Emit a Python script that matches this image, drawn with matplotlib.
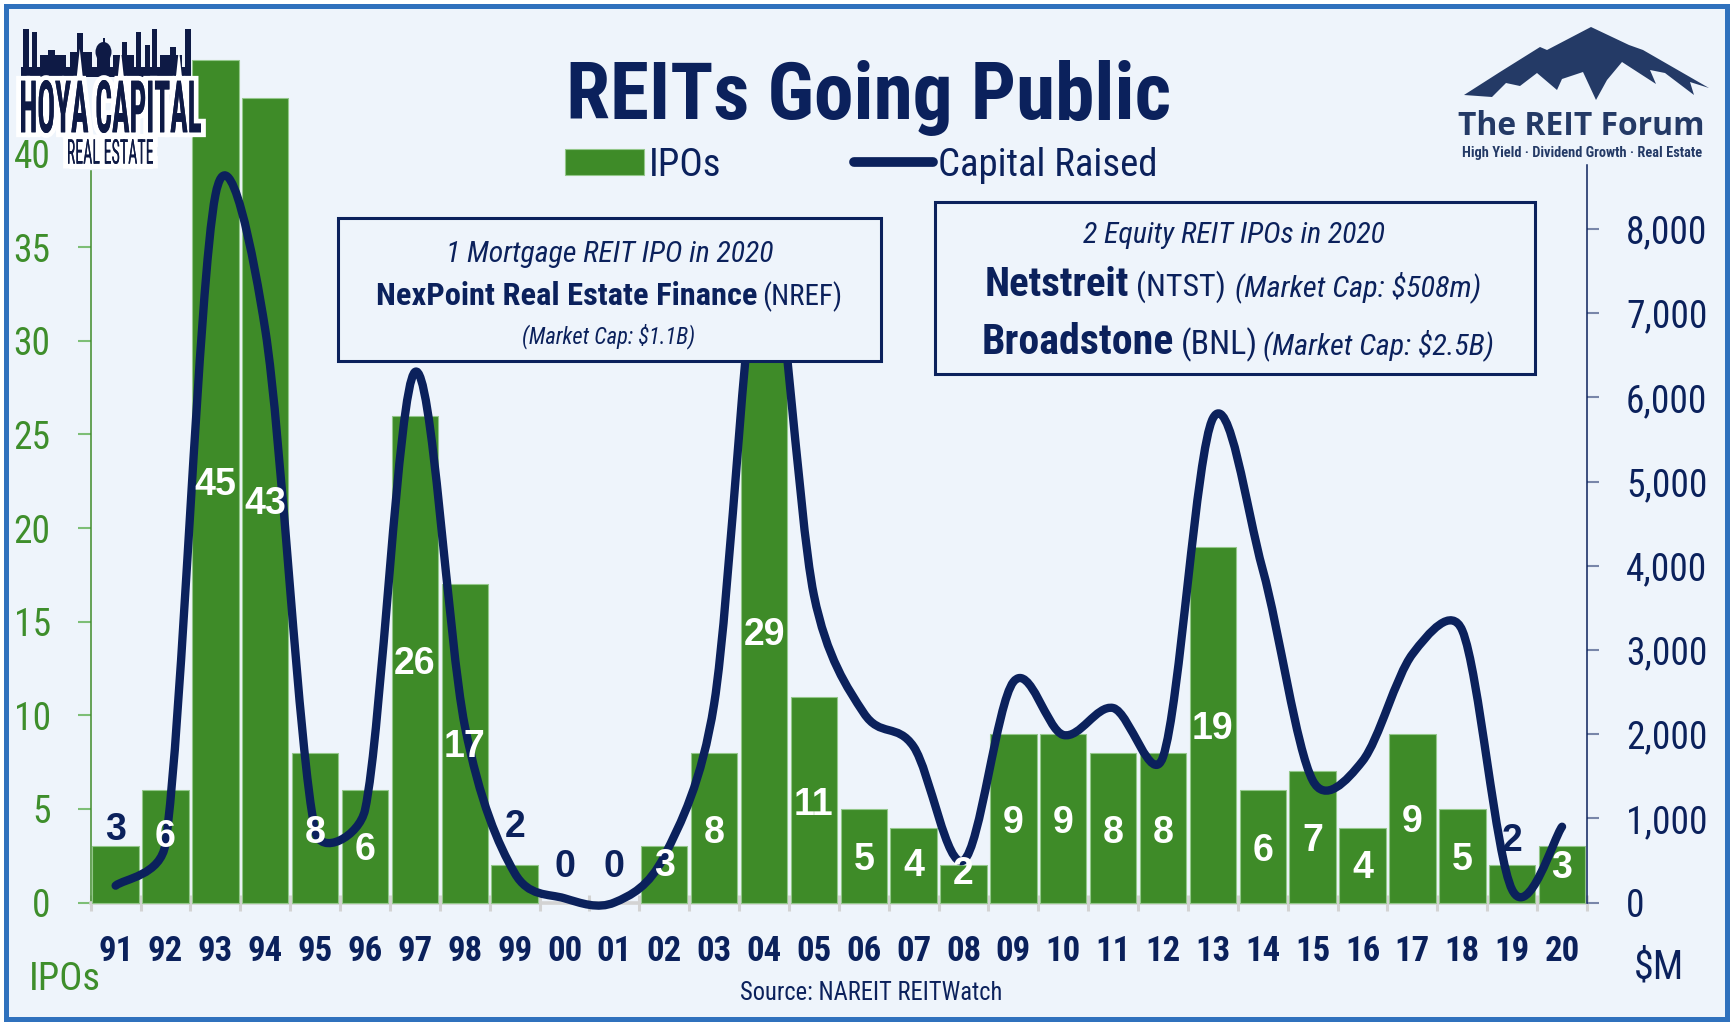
import numpy as np
import matplotlib
matplotlib.use('Agg')
import matplotlib.pyplot as plt
from matplotlib import font_manager
from matplotlib.path import Path
from matplotlib.patches import PathPatch, Rectangle, Polygon, Ellipse
from matplotlib.transforms import Affine2D
from matplotlib.textpath import TextPath
from matplotlib.font_manager import FontProperties
from matplotlib.lines import Line2D
import matplotlib.patheffects as pe

# ---------------- data ----------------
years = ['91', '92', '93', '94', '95', '96', '97', '98', '99', '00',
         '01', '02', '03', '04', '05', '06', '07', '08', '09', '10',
         '11', '12', '13', '14', '15', '16', '17', '18', '19', '20']
ipos = [3, 6, 45, 43, 8, 6, 26, 17, 2, 0,
        0, 3, 8, 29, 11, 5, 4, 2, 9, 9,
        8, 8, 19, 6, 7, 4, 9, 5, 2, 3]
capital = [200, 700, 8400, 6800, 850, 1100, 6300, 2100, 350, 50,
           0, 550, 2360, 8000, 3650, 2250, 1850, 500, 2620, 1990,
           2310, 1730, 5750, 3950, 1450, 1680, 2950, 3230, 150, 900]
left_ticks = [0, 5, 10, 15, 20, 25, 30, 35, 40]
right_ticks = [0, 1000, 2000, 3000, 4000, 5000, 6000, 7000, 8000]

# layout of the value labels (vertical centre, in IPO-axis units)
label_y = [4.1, 3.7, 22.5, 21.5, 3.9, 3.0, 12.95, 8.5, 4.25, 2.13,
           2.13, 2.18, 3.93, 14.5, 5.42, 2.48, 2.18, 1.73, 4.47, 4.47,
           3.93, 3.93, 9.49, 2.99, 3.48, 2.06, 4.5, 2.48, 3.52, 2.06]
dark_label_years = {'91', '99', '00', '01', '19'}

# ---------------- style ----------------
GREEN = '#3E8B28'
GREEN_TXT = '#3E8E2B'
NAVY = '#0B215C'
LOGO_NAVY = '#0E1A45'
FORUM = '#243A66'
BG = '#EEF4FB'
BORDER = '#2F71BD'

avail = {f.name for f in font_manager.fontManager.ttflist}


def pick(*names):
    for n in names:
        if n in avail:
            return n
    return 'DejaVu Sans'


NARROW = pick('Liberation Sans Narrow', 'Roboto Condensed', 'DejaVu Sans')
STRETCH = 'condensed' if NARROW == 'DejaVu Sans' else 'normal'
BOLD = pick('Liberation Sans', 'Arimo', 'DejaVu Sans')
LOGO = pick('Open Sans', 'Roboto', 'Noto Sans', 'DejaVu Sans')

W, H, DPI = 1734, 1028, 100
fig = plt.figure(figsize=(W / DPI, H / DPI), dpi=DPI, facecolor='white')
# pixel coordinates with origin at top-left
PX = Affine2D().scale(1, -1).translate(0, H).scale(1 / DPI) + fig.dpi_scale_trans
renderer = fig.canvas.get_renderer()

# background panel with blue frame
fig.add_artist(Rectangle((5.7, 5.8), 1726.5 - 5.7, 1019.2 - 5.8, transform=PX,
                         facecolor=BG, edgecolor=BORDER, lw=3.6, zorder=-10))

# ---------------- axes ----------------
AX_L, AX_R, AX_B, AX_T = 90.7, 1587.0, 902.5, 40.0
PX_PER_IPO, PX_PER_K = 18.72, 84.2
ax = fig.add_axes([AX_L / W, 1 - AX_B / H, (AX_R - AX_L) / W, (AX_B - AX_T) / H])
ax.set_facecolor('none')
ax2 = ax.twinx()
ax2.set_facecolor('none')

ymax = (AX_B - AX_T) / PX_PER_IPO
ax.set_xlim(-0.5, len(years) - 0.5)
ax.set_ylim(0, ymax)
ax2.set_ylim(0, (AX_B - AX_T) / PX_PER_K * 1000)

x = np.arange(len(years))
bars = ax.bar(x, ipos, width=0.93, color=GREEN, edgecolor='#93C78A',
              linewidth=[0.8 if v > 0 else 0 for v in ipos], zorder=3, clip_on=False)

# spines
for s in ['top', 'right']:
    ax.spines[s].set_visible(False)
for s in ['top', 'left', 'bottom']:
    ax2.spines[s].set_visible(False)
ax.spines['left'].set_color(GREEN)
ax.spines['left'].set_linewidth(1.1)
ax.spines['left'].set_bounds(0, 39.1)
ax.spines['bottom'].set_color('#D3D3D3')
ax.spines['bottom'].set_linewidth(2.6)
ax2.spines['right'].set_color(NAVY)
ax2.spines['right'].set_linewidth(1.1)
ax2.spines['right'].set_bounds(0, 8760)

# left y ticks
ax.set_yticks(left_ticks)
ax.set_yticklabels([str(t) for t in left_ticks])
ax.tick_params(axis='y', length=9.4, width=1.5, color='#7DBE76', pad=19.4,
               labelsize=27, labelcolor=GREEN_TXT)
for t in ax.get_yticklabels():
    t.set_fontfamily(NARROW)
    t.set_fontstretch(STRETCH)

# right y ticks
ax2.set_yticks(right_ticks)
ax2.set_yticklabels([f'{t:,}' for t in right_ticks])
ax2.tick_params(axis='y', length=8.6, width=1.5, color='#7886A9', pad=19.4,
                labelsize=27, labelcolor=NAVY)
for t in ax2.get_yticklabels():
    t.set_fontfamily(NARROW)
    t.set_fontstretch(STRETCH)

# x ticks
ax.set_xticks(x)
ax.set_xticklabels(years)
ax.tick_params(axis='x', which='major', length=0, pad=23.4, labelsize=25, labelcolor=NAVY)
for t in ax.get_xticklabels():
    t.set_fontfamily(NARROW)
    t.set_fontstretch(STRETCH)
    t.set_fontweight('bold')
ax.set_xticks(np.arange(-0.5, len(years), 1.0), minor=True)
ax.tick_params(axis='x', which='minor', direction='inout', length=12.2, width=2.2,
               color='#D3D3D3')

# smoothed capital-raised line (Excel-style Bezier smoothing, computed in screen space)
kx = (AX_R - AX_L) / len(years)
ky = PX_PER_K / 1000.0
P = np.column_stack([x * kx, np.asarray(capital, float) * ky])
n = len(P)
verts = [P[0]]
codes = [Path.MOVETO]
for i in range(n - 1):
    p0 = P[i - 1] if i > 0 else P[i]
    p1, p2 = P[i], P[i + 1]
    p3 = P[i + 2] if i + 2 < n else P[i + 1]
    d12 = np.hypot(*(p2 - p1))
    d02 = np.hypot(*(p2 - p0))
    d13 = np.hypot(*(p3 - p1))
    f1 = 1 / 6 if (d02 == 0 or d02 / 6 < d12 / 2) else d12 / (2 * d02)
    f2 = 1 / 6 if (d13 == 0 or d13 / 6 < d12 / 2) else d12 / (2 * d13)
    verts += [p1 + (p2 - p0) * f1, p2 - (p3 - p1) * f2, p2]
    codes += [Path.CURVE4] * 3
verts = np.array(verts) / np.array([kx, ky])
ax2.add_patch(PathPatch(Path(verts, codes), fill=False, edgecolor=NAVY, lw=6.0,
                        capstyle='round', joinstyle='round', zorder=4, clip_on=False))

# value labels
for i, (yr, v, ly) in enumerate(zip(years, ipos, label_y)):
    ax2.text(i, ly, str(v), transform=ax.transData, ha='center', va='center_baseline',
             fontsize=27, fontweight='bold', family=BOLD,
             color=NAVY if yr in dark_label_years else 'white', zorder=6)


# ---------------- helpers ----------------
def fit(t, width):
    w = t.get_window_extent(renderer).width
    t.set_fontsize(t.get_fontsize() * width / w)
    return t


def ptext(s, xl, base, width, color=NAVY, family=NARROW, weight='normal', style='normal',
          size=26, ha='left', z=8):
    t = fig.text(xl, base, s, transform=PX, ha=ha, va='baseline', color=color,
                 family=family, fontweight=weight, fontstyle=style, fontsize=size,
                 fontstretch=STRETCH if family == NARROW else 'normal', zorder=z)
    if width:
        fit(t, width)
    return t


# ---------------- title & legend ----------------
ptext('REITs Going Public', 868.5, 119.3, 604, weight='bold', size=58, ha='center')

leg_line = Line2D([], [], color=NAVY, lw=7, solid_capstyle='round')
leg = fig.legend([bars, leg_line], ['IPOs', 'Capital Raised'], ncol=2, frameon=False,
                 prop=FontProperties(family=NARROW, size=28, stretch=STRETCH),
                 labelcolor=NAVY, handlelength=2.05, handleheight=0.66,
                 handletextpad=0.12, columnspacing=3.4, loc='center left',
                 bbox_to_anchor=(564.5, 165), bbox_transform=PX,
                 borderpad=0, borderaxespad=0)
leg.set_zorder(8)

# ---------------- annotation boxes ----------------
for (x0, y0, x1, y1) in [(338, 218.3, 880.7, 360.7), (934.6, 202.3, 1534.9, 374)]:
    fig.add_artist(Rectangle((x0, y0), x1 - x0, y1 - y0, transform=PX, facecolor=BG,
                             edgecolor=NAVY, lw=2.2, zorder=7))

ptext('1 Mortgage REIT IPO in 2020', 446, 261.7, 328, style='italic')
ptext('NexPoint Real Estate Finance', 376.5, 305, 381.5, weight='bold')
ptext('(NREF)', 762.6, 305, 80)
ptext('(Market Cap: $1.1B)', 522, 343.3, 173, style='italic')

ptext('2 Equity REIT IPOs in 2020', 1083, 243, 302, style='italic')
ptext('Netstreit', 985, 296, 145, weight='bold')
ptext('(NTST)', 1136.5, 296, 90)
ptext('(Market Cap: $508m)', 1235, 296, 246, style='italic')
ptext('Broadstone', 982, 354, 192, weight='bold')
ptext('(BNL)', 1181, 354, 77)
ptext('(Market Cap: $2.5B)', 1263, 354, 231, style='italic')

# ---------------- axis captions & source ----------------
ptext('IPOs', 28.7, 990, 72, color=GREEN_TXT)
ptext('$M', 1633.5, 979, 50.5)
ptext('Source: NAREIT REITWatch', 740.5, 1000, 262.5)


# ---------------- logos ----------------
def text_in_box(s, x0, x1, ytop, ybot, fp, color, z=9, halo=True):
    tp = TextPath((0, 0), s, prop=fp, size=40)
    ext = tp.get_extents()
    sx = (x1 - x0) / ext.width
    sy = (ybot - ytop) / ext.height
    tr = Affine2D().translate(-ext.x0, -ext.y0).scale(sx, -sy).translate(x0, ybot) + PX
    p = PathPatch(tp, transform=tr, facecolor=color, edgecolor='none', zorder=z)
    if halo:
        p.set_path_effects([pe.withStroke(linewidth=7, foreground='white'), pe.Normal()])
    fig.add_artist(p)


# Hoya Capital skyline
sky = [(21, 191, 67, 77), (23, 29, 29, 67), (32, 37, 32, 67), (40, 66, 55, 67),
       (48, 55, 50, 67), (77, 83, 33, 67), (70, 92, 52, 67), (97, 110, 50, 67),
       (122, 127, 42, 67), (113, 134, 55, 67), (136, 141, 32, 67), (145, 150, 45, 67),
       (152, 157, 29, 67), (160, 182, 55, 67), (170, 176, 47, 67), (185, 191, 29, 67)]
for (x0, x1, yt, yb) in sky:
    fig.add_artist(Rectangle((x0, yt), x1 - x0, yb - yt, transform=PX,
                             facecolor=LOGO_NAVY, edgecolor='none', zorder=9))
fig.add_artist(Ellipse((103.5, 52), 16, 20, transform=PX, facecolor=LOGO_NAVY,
                       edgecolor='none', zorder=9))
fig.add_artist(Rectangle((102.5, 38), 2, 8, transform=PX, facecolor=LOGO_NAVY,
                         edgecolor='none', zorder=9))
text_in_box('HOYA CAPITAL', 21, 201, 80, 133,
            FontProperties(family=NARROW, weight='bold', stretch=STRETCH), LOGO_NAVY)
text_in_box('REAL ESTATE', 68, 153, 139, 164,
            FontProperties(family=NARROW, stretch=STRETCH), LOGO_NAVY)

# The REIT Forum mountain
mountain = [(1464, 95), (1500, 72), (1540, 47), (1547, 50), (1591, 27), (1629, 45),
            (1643, 50), (1709, 88), (1690, 82), (1694, 95), (1665, 73), (1650, 70),
            (1656, 84), (1622, 62), (1607, 80), (1596, 100), (1583, 72), (1562, 79),
            (1557, 90), (1537, 73), (1520, 86), (1506, 83), (1492, 97)]
fig.add_artist(Polygon(mountain, closed=True, transform=PX, facecolor=FORUM,
                       edgecolor='none', zorder=9))
ptext('The REIT Forum', 1458, 135, 247, color=FORUM, family=LOGO, weight='bold', z=9)
ptext('High Yield \u00b7 Dividend Growth \u00b7 Real Estate', 1462, 157, 241,
      color=FORUM, weight='bold', z=9)

fig.savefig('out.png', dpi=DPI, facecolor='white')
